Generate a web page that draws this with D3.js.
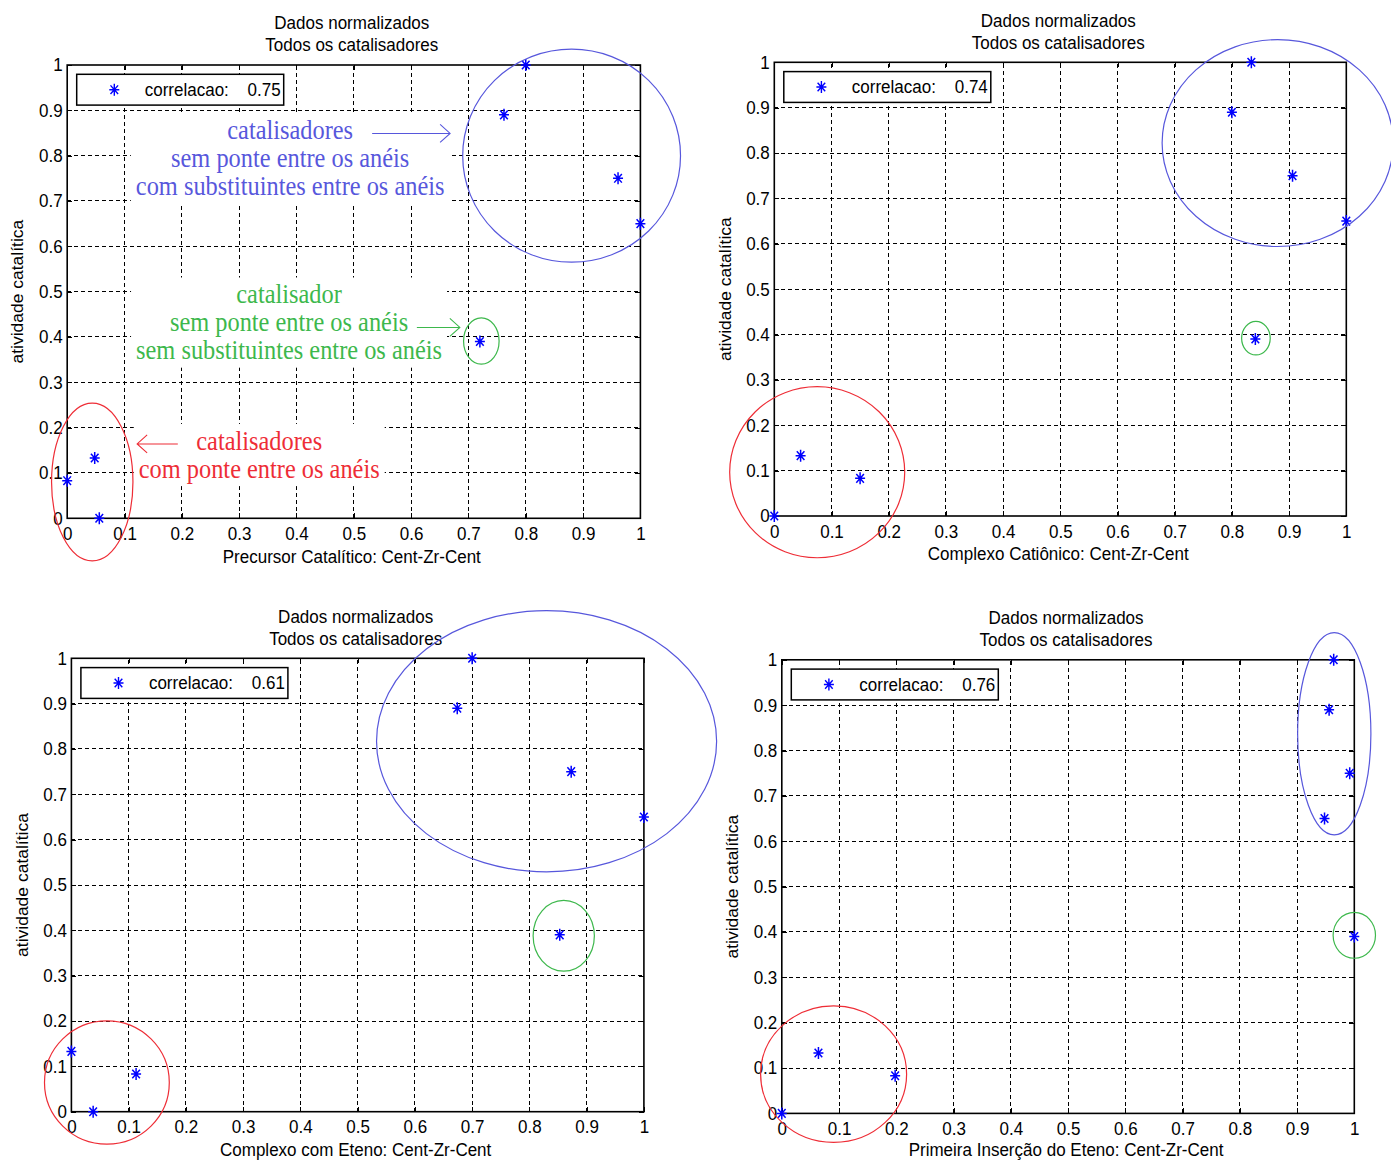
<!DOCTYPE html>
<html>
<head>
<meta charset="utf-8">
<script src="https://cdn.jsdelivr.net/npm/d3@7"></script>
<style>
  body { margin: 0; background: #fff; }
</style>
</head>
<body>
<svg id="fig" width="1391" height="1160"></svg>
<script>
// ---- data -------------------------------------------------------------
// catalytic activity (normalised), one value per catalyst
const activity   = [1.00, 0.89, 0.75, 0.65, 0.39, 0.133, 0.083, 0.00];
// normalised descriptor of each catalyst, one series per stage
const xPrecursor = [0.800, 0.762, 0.961, 1.000, 0.720, 0.048, 0.000, 0.056];
const xCationic  = [0.834, 0.800, 0.906, 1.000, 0.841, 0.046, 0.150, 0.000];
const xEthene    = [0.700, 0.674, 0.873, 1.000, 0.853, 0.000, 0.113, 0.038];
const xInsertion = [0.964, 0.956, 0.992, 0.948, 1.000, 0.064, 0.198, 0.000];
const correlations = [0.75, 0.74, 0.61, 0.76];

const xLabels = [
  "Precursor Catalítico: Cent-Zr-Cent",
  "Complexo Catiônico: Cent-Zr-Cent",
  "Complexo com Eteno: Cent-Zr-Cent",
  "Primeira Inserção do Eteno: Cent-Zr-Cent"
];
const titleLines = ["Dados normalizados", "Todos os catalisadores"];
const yLabel = "atividade catalítica";
const legendLabel = "correlacao:";
const ticks = [0, 0.1, 0.2, 0.3, 0.4, 0.5, 0.6, 0.7, 0.8, 0.9, 1];

// groups of catalysts circled on each plot: [cx, cy, rx, ry] in data units
const groupBlue  = [[0.880, 0.800, 0.190, 0.235], [0.880, 0.822, 0.202, 0.228],
                    [0.830, 0.817, 0.297, 0.288], [0.965, 0.837, 0.064, 0.223]];
const groupGreen = [[0.7225, 0.391, 0.031, 0.051], [0.842, 0.392, 0.025, 0.037],
                    [0.860, 0.388, 0.0535, 0.078], [1.000, 0.3925, 0.037, 0.0505]];
const groupRed   = [[0.0437, 0.080, 0.071, 0.174], [0.075, 0.0965, 0.153, 0.1885],
                    [0.062, 0.0645, 0.109, 0.136], [0.0905, 0.0865, 0.1275, 0.1505]];

// notes written on the first plot
const blueNote  = ["catalisadores", "sem ponte entre os anéis", "com substituintes entre os anéis"];
const greenNote = ["catalisador", "sem ponte entre os anéis", "sem substituintes entre os anéis"];
const redNote   = ["catalisadores", "com ponte entre os anéis"];

// ---- layout & style ---------------------------------------------------
const panels = [
  { left: 67.2,  top: 65.0,  width: 573.2, height: 453.3, xs: xPrecursor },
  { left: 774.3, top: 62.3,  width: 572.0, height: 453.7, xs: xCationic },
  { left: 71.4,  top: 658.3, width: 572.5, height: 453.4, xs: xEthene },
  { left: 781.8, top: 659.8, width: 572.5, height: 453.6, xs: xInsertion }
];
const COLORS = { blue: "#5757dc", green: "#3db84c", red: "#ee2d36", marker: "#0000ff" };
const K = 0.92;                       // horizontal squeeze of the glyphs
const SANS = "'Liberation Sans', Arial, sans-serif";
const SERIF = "'Liberation Serif', 'Times New Roman', serif";
const PAGE_H = 1160;

const noteLayout = [
  { lines: blueNote,  color: COLORS.blue,  x: 0.389, y: 0.837, arrow: [0.532, 0.668, 0.849] },
  { lines: greenNote, color: COLORS.green, x: 0.387, y: 0.474, arrow: [0.610, 0.685, 0.421] },
  { lines: redNote,   color: COLORS.red,   x: 0.335, y: 0.151, arrow: [0.193, 0.122, 0.164] }
];

const svg = d3.select("#fig");

function squeezed(parent, x, y, str, o = {}) {
  const g = parent.append("g")
    .attr("transform", `translate(${x},${y}) scale(${K},1)` + (o.rotate ? ` rotate(${o.rotate})` : ""));
  g.append("text")
    .attr("text-anchor", o.anchor || "middle")
    .attr("dominant-baseline", o.baseline || "central")
    .attr("font-family", o.family || SANS)
    .attr("font-size", o.size || 18.5)
    .attr("fill", o.color || "#000")
    .text(str);
  return g;
}

function asterisk(cx, cy) {
  const p = d3.path();
  const v = 6, h = 5, dx = 3.8, dy = 4.3;
  p.moveTo(cx, cy - v); p.lineTo(cx, cy + v);
  p.moveTo(cx - h, cy); p.lineTo(cx + h, cy);
  p.moveTo(cx - dx, cy - dy); p.lineTo(cx + dx, cy + dy);
  p.moveTo(cx - dx, cy + dy); p.lineTo(cx + dx, cy - dy);
  return p.toString();
}

function arrow(parent, x1, x2, yy, color) {
  const dir = Math.sign(x2 - x1);
  const p = d3.path();
  p.moveTo(x1, yy); p.lineTo(x2, yy);
  p.moveTo(x2 - dir * 10, yy - 9); p.lineTo(x2, yy); p.lineTo(x2 - dir * 10, yy + 9);
  parent.append("path").attr("d", p.toString()).attr("fill", "none")
    .attr("stroke", color).attr("stroke-width", 1.1);
}

panels.forEach((p, i) => {
  const g = svg.append("g");
  const x = d3.scaleLinear().domain([0, 1]).range([p.left, p.left + p.width]);
  const y = d3.scaleLinear().domain([0, 1]).range([p.top + p.height, p.top]);
  const inner = ticks.slice(1, -1);

  // dotted grid
  const grid = g.append("g").attr("stroke", "#000").attr("stroke-width", 1)
    .attr("stroke-dasharray", "4,3").attr("shape-rendering", "crispEdges");
  grid.selectAll("line.v").data(inner).join("line").attr("class", "v")
    .attr("x1", d => x(d)).attr("x2", d => x(d)).attr("y1", y(0)).attr("y2", y(1));
  grid.selectAll("line.h").data(inner).join("line").attr("class", "h")
    .attr("y1", d => y(d)).attr("y2", d => y(d)).attr("x1", x(0)).attr("x2", x(1));

  // notes with white background (first plot only)
  const arrows = [];
  if (i === 0) {
    noteLayout.forEach(n => {
      const ng = g.append("g");
      const bg = ng.append("rect").attr("fill", "#fff");
      n.lines.forEach((line, k) => {
        squeezed(ng, x(n.x), y(n.y) + k * 28, line,
          { family: SERIF, size: 26.5, color: n.color, baseline: "alphabetic" });
      });
      const bb = ng.node().getBBox();
      bg.attr("x", bb.x - 5).attr("y", bb.y - 2).attr("width", bb.width + 10).attr("height", bb.height + 4);
      arrows.push(n);
    });
  }

  // legend
  const lx = p.left + 9.5, ly = p.top + 9.3, lw = 207, lh = 30.8;
  const leg = g.append("g");
  leg.append("rect").attr("x", lx).attr("y", ly).attr("width", lw).attr("height", lh)
    .attr("fill", "#fff").attr("stroke", "#000").attr("stroke-width", 1.5);
  leg.append("path").attr("d", asterisk(lx + 37.6, ly + lh / 2))
    .attr("stroke", COLORS.marker).attr("stroke-width", 1.4);
  squeezed(leg, lx + 68, ly + lh / 2, legendLabel, { anchor: "start" });
  squeezed(leg, lx + 204, ly + lh / 2, d3.format(".2f")(correlations[i]), { anchor: "end" });

  // axes: inward ticks on all four sides
  const fmt = d3.format("~g");
  const styleAxis = a => {
    a.select(".domain").remove();
    a.attr("font-size", 18.5).attr("font-family", SANS);
    a.selectAll("line").attr("stroke", "#000").attr("shape-rendering", "crispEdges");
    a.selectAll("text").attr("fill", "#000");
  };
  const bottom = g.append("g").attr("transform", `translate(0,${y(0)})`)
    .call(d3.axisBottom(x).tickValues(ticks).tickSize(-5).tickPadding(8.5).tickFormat(fmt));
  styleAxis(bottom);
  bottom.selectAll("text").attr("transform", `scale(${K},1)`);

  const left = g.append("g").attr("transform", `translate(${x(0)},0)`)
    .call(d3.axisLeft(y).tickValues(ticks).tickSize(-5).tickPadding(4.5).tickFormat(fmt));
  styleAxis(left);
  left.selectAll("text").attr("x", 0).attr("transform", `translate(-4.5,0) scale(${K},1)`);

  styleAxis(g.append("g").attr("transform", `translate(0,${y(1)})`)
    .call(d3.axisTop(x).tickValues(ticks).tickSize(-5).tickFormat("")));
  styleAxis(g.append("g").attr("transform", `translate(${x(1)},0)`)
    .call(d3.axisRight(y).tickValues(ticks).tickSize(-5).tickFormat("")));

  g.append("rect").attr("x", x(0)).attr("y", y(1))
    .attr("width", x(1) - x(0)).attr("height", y(0) - y(1))
    .attr("fill", "none").attr("stroke", "#000").attr("stroke-width", 1.6);

  // titles and axis labels
  const cx = (x(0) + x(1)) / 2 - 2;
  squeezed(g, cx, y(1) - 42, titleLines[0]);
  squeezed(g, cx, y(1) - 20, titleLines[1]);
  squeezed(g, cx, Math.min(y(0) + 38, PAGE_H - 10.5), xLabels[i]);
  squeezed(g, x(0) - 49, (y(0) + y(1)) / 2, yLabel, { rotate: -90, size: 17.5 });

  // data points
  g.append("g").selectAll("path").data(p.xs.map((v, j) => [v, activity[j]])).join("path")
    .attr("d", d => asterisk(x(d[0]), y(d[1])))
    .attr("stroke", COLORS.marker).attr("stroke-width", 1.5).attr("fill", "none");

  // circled groups
  [[groupBlue[i], COLORS.blue], [groupGreen[i], COLORS.green], [groupRed[i], COLORS.red]]
    .forEach(([e, c]) => {
      g.append("ellipse")
        .attr("cx", x(e[0])).attr("cy", y(e[1]))
        .attr("rx", x(e[2]) - x(0)).attr("ry", y(0) - y(e[3]))
        .attr("fill", "none").attr("stroke", c).attr("stroke-width", 1.2);
    });

  // arrows from the notes
  arrows.forEach(n => arrow(g, x(n.arrow[0]), x(n.arrow[1]), y(n.arrow[2]), n.color));
});
</script>
</body>
</html>
